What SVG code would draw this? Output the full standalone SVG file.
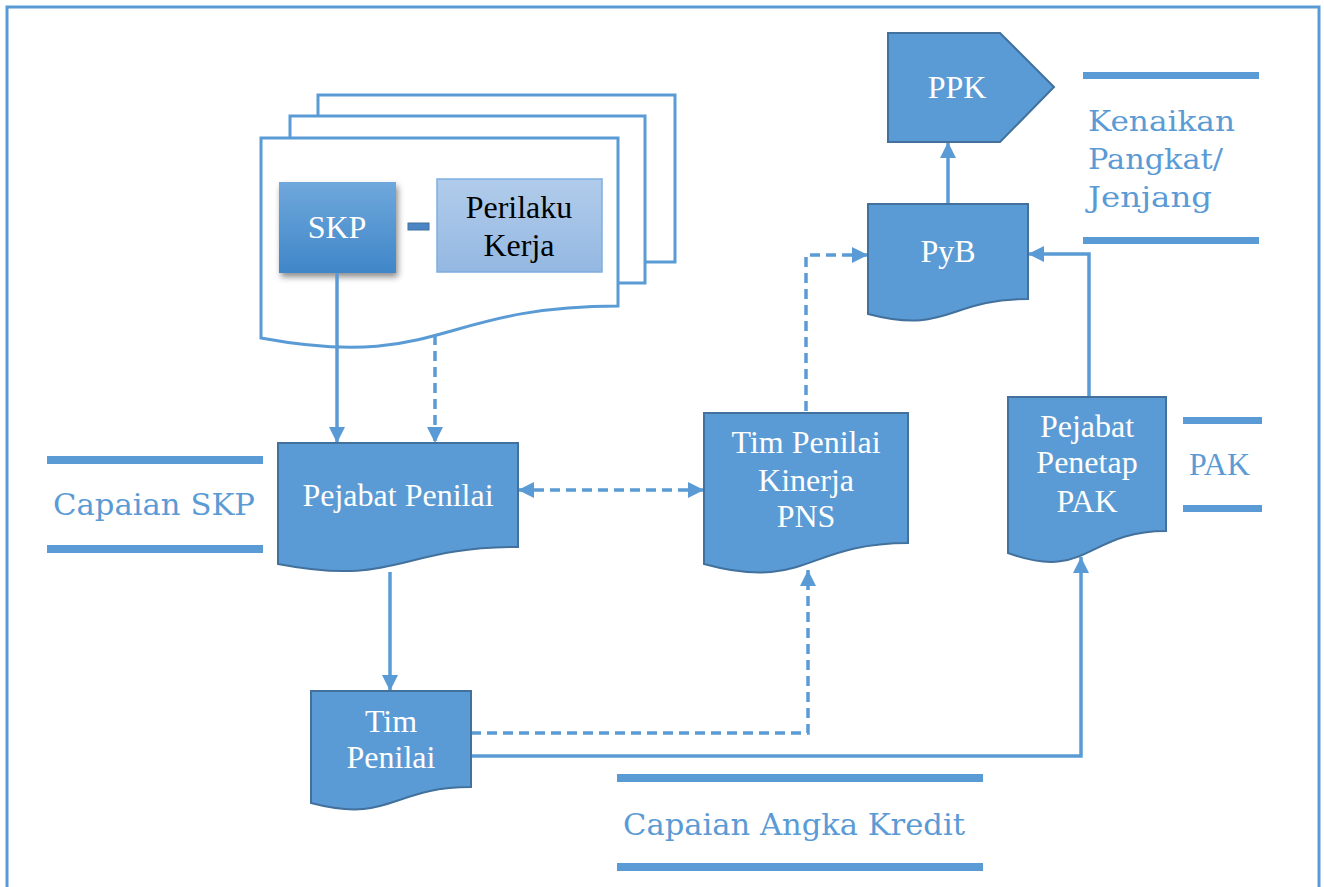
<svg xmlns="http://www.w3.org/2000/svg" width="1324" height="887" viewBox="0 0 1324 887">
<style>
.node{fill:#5b9bd5;stroke:#41719c;stroke-width:2}
.ntext{font-family:"Liberation Serif","Times New Roman",serif;font-size:32px;fill:#ffffff;text-anchor:middle}
.page{fill:#ffffff;stroke:#5b9bd5;stroke-width:3}
.conn{fill:none;stroke:#5b9bd5;stroke-width:3.5}
.dash{stroke-dasharray:10 6}
.bar{fill:#5b9bd5}
.ltext{font-family:"DejaVu Serif","Liberation Serif",serif;fill:#5b9bd5}
</style>
<defs>
<marker id="arr" viewBox="0 0 10 10" refX="10" refY="5" markerUnits="userSpaceOnUse" markerWidth="16" markerHeight="16" orient="auto-start-reverse">
<path d="M0,0 L10,5 L0,10 z" fill="#5b9bd5"/>
</marker>
<linearGradient id="skpg" x1="0" y1="0" x2="0" y2="1">
<stop offset="0" stop-color="#6fa8dc"/>
<stop offset="1" stop-color="#3f86c8"/>
</linearGradient>
<linearGradient id="pkg" x1="0" y1="0" x2="0" y2="1">
<stop offset="0" stop-color="#b1cceb"/>
<stop offset="1" stop-color="#94b8e2"/>
</linearGradient>
<filter id="shadow" x="-20%" y="-20%" width="140%" height="150%">
<feDropShadow dx="2" dy="4" stdDeviation="3" flood-color="#000" flood-opacity="0.45"/>
</filter>
</defs>
<rect x="7" y="7" width="1312" height="900" fill="none" stroke="#5b9bd5" stroke-width="3"/>

<g id="skp-documents">
<polyline class="page" points="318,116 318,95 675,95 675,262 646,262"/>
<polyline class="page" points="290,138 290,116 645,116 645,283 618,283"/>
<path class="page" d="M261,138 H618 V306 C439,306 439,371 261,338 Z"/>
</g>
<g id="skp">
<rect x="279" y="182" width="117" height="91" fill="url(#skpg)" filter="url(#shadow)"/>
<text class="ntext" x="337" y="238">SKP</text>
</g>
<g id="minus">
<rect x="408" y="223" width="21" height="7" fill="#4a86c6" stroke="#41719c" stroke-width="1"/>
</g>
<g id="perilaku-kerja">
<rect x="437" y="179" width="165" height="93" fill="url(#pkg)" stroke="#7eaee0" stroke-width="1.5"/>
<text class="ntext" x="519" y="218" style="fill:#000">Perilaku</text>
<text class="ntext" x="519" y="256" style="fill:#000">Kerja</text>
</g>

<g id="connectors">
<path class="conn" d="M337,273 V443" marker-end="url(#arr)"/>
<path class="conn dash" d="M435,335 V443" marker-end="url(#arr)"/>
<path class="conn" d="M390,572 V691" marker-end="url(#arr)"/>
<path class="conn dash" d="M518,490 H704" marker-start="url(#arr)" marker-end="url(#arr)"/>
<path class="conn dash" d="M806,411 V255 H868" marker-end="url(#arr)"/>
<path class="conn" d="M948,204 V142" marker-end="url(#arr)"/>
<path class="conn" d="M1089,397 V254 H1028" marker-end="url(#arr)"/>
<path class="conn dash" d="M471,733 H808 V570" marker-end="url(#arr)"/>
<path class="conn" d="M471,756 H1081 V557" marker-end="url(#arr)"/>
</g>

<g id="pejabat-penilai">
<path class="node" d="M278,443 H518 V547 C398,547 398,587 278,564 Z"/>
<text class="ntext" x="398" y="506">Pejabat Penilai</text>
</g>
<g id="tim-penilai-kinerja">
<path class="node" d="M704,413 H908 V543 C806,543 806,592 704,564 Z"/>
<text class="ntext" x="806" y="453">Tim Penilai</text>
<text class="ntext" x="806" y="491">Kinerja</text>
<text class="ntext" x="806" y="527">PNS</text>
</g>
<g id="pyb">
<path class="node" d="M868,204 H1028 V299 C948,299 948,335 868,314 Z"/>
<text class="ntext" x="948" y="262">PyB</text>
</g>
<g id="ppk">
<path class="node" d="M888,33 H1000 L1054,87 L1000,142 H888 Z"/>
<text class="ntext" x="957" y="98">PPK</text>
</g>
<g id="pejabat-penetap-pak">
<path class="node" d="M1008,397 H1166 V531 C1087,531 1087,582 1008,553 Z"/>
<text class="ntext" x="1087" y="437">Pejabat</text>
<text class="ntext" x="1087" y="473">Penetap</text>
<text class="ntext" x="1087" y="512">PAK</text>
</g>
<g id="tim-penilai">
<path class="node" d="M311,691 H471 V787 C391,787 391,824 311,803 Z"/>
<text class="ntext" x="391" y="732">Tim</text>
<text class="ntext" x="391" y="768">Penilai</text>
</g>

<g id="label-capaian-skp">
<rect class="bar" x="47" y="456" width="216" height="8"/>
<rect class="bar" x="47" y="545" width="216" height="8"/>
<text class="ltext" x="53" y="515" font-size="30" textLength="202" lengthAdjust="spacingAndGlyphs">Capaian SKP</text>
</g>
<g id="label-kenaikan">
<rect class="bar" x="1083" y="72" width="176" height="7"/>
<rect class="bar" x="1083" y="237" width="176" height="7"/>
<text class="ltext" x="1088" y="131" font-size="27" textLength="147" lengthAdjust="spacingAndGlyphs">Kenaikan</text>
<text class="ltext" x="1088" y="169" font-size="27" textLength="135" lengthAdjust="spacingAndGlyphs">Pangkat/</text>
<text class="ltext" x="1088" y="207" font-size="27" textLength="124" lengthAdjust="spacingAndGlyphs">Jenjang</text>
</g>
<g id="label-pak">
<rect class="bar" x="1183" y="417" width="79" height="7"/>
<rect class="bar" x="1183" y="505" width="79" height="7"/>
<text x="1189" y="475" font-family="Liberation Serif, Times New Roman, serif" font-size="32" fill="#5b9bd5">PAK</text>
</g>
<g id="label-capaian-angka-kredit">
<rect class="bar" x="617" y="774" width="366" height="8"/>
<rect class="bar" x="617" y="863" width="366" height="8"/>
<text class="ltext" x="623" y="835" font-size="30" textLength="342" lengthAdjust="spacingAndGlyphs">Capaian Angka Kredit</text>
</g>
</svg>
